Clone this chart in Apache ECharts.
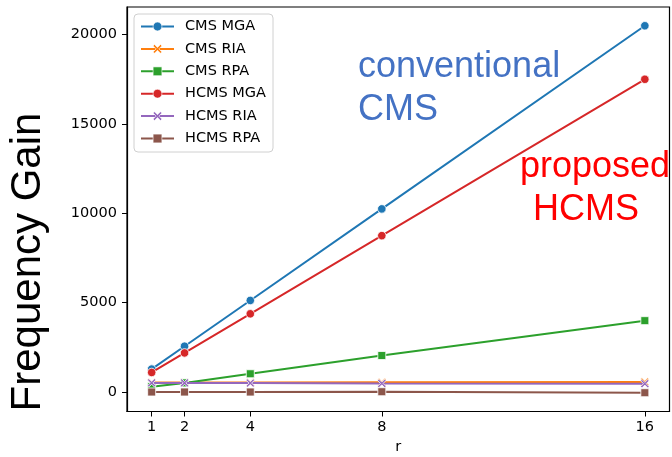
<!DOCTYPE html>
<html>
<head>
<meta charset="utf-8">
<script src="https://cdn.jsdelivr.net/npm/echarts@6/dist/echarts.min.js"></script>
<style>html,body{margin:0;padding:0;background:#fff}#c{width:672px;height:457px}</style>
</head>
<body>
<div id="c"></div>
<script>
const rValues = [1, 2, 4, 8, 16];
const yTicks = [0, 5000, 10000, 15000, 20000];
const cmsMGA = [1280, 2560, 5120, 10240, 20480];
const cmsRIA = [530, 530, 530, 540, 560];
const cmsRPA = [300, 510, 1020, 2040, 3990];
const hcmsMGA = [1093, 2186, 4372, 8744, 17488];
const hcmsRIA = [510, 510, 500, 480, 464];
const hcmsRPA = [0, 0, 0, 15, -40];
const seriesNames = ['CMS MGA', 'CMS RIA', 'CMS RPA', 'HCMS MGA', 'HCMS RIA', 'HCMS RPA'];
const seriesValues = [cmsMGA, cmsRIA, cmsRPA, hcmsMGA, hcmsRIA, hcmsRPA];
const colors = ['#1f77b4', '#ff7f0e', '#2ca02c', '#d62728', '#9467bd', '#8c564b'];
const xMark = 'path://M0,1.6 L1.6,0 L5,3.4 L8.4,0 L10,1.6 L6.6,5 L10,8.4 L8.4,10 L5,6.6 L1.6,10 L0,8.4 L3.4,5 Z';
const symbols = ['circle', xMark, 'rect', 'circle', xMark, 'rect'];
const symSizes = [8.5, 8.5, 8, 8.5, 8.5, 8];

const tickFont = {fontFamily: 'DejaVu Sans', fontSize: 14.5, color: '#000'};

const chart = echarts.init(document.getElementById('c'), null, {renderer: 'canvas'});
chart.setOption({
  animation: false,
  backgroundColor: '#fff',
  color: colors,
  grid: {left: 127, right: 2.5, top: 7, bottom: 45.5, show: true, borderColor: '#000', borderWidth: 1.2, backgroundColor: 'transparent', outerBoundsMode: 'none', containLabel: false},
  xAxis: {
    type: 'value', min: 0.25, max: 16.75,
    name: 'r', nameLocation: 'middle', nameGap: 27,
    nameTextStyle: {fontFamily: 'DejaVu Sans', fontSize: 14.5, color: '#000'},
    axisLine: {show: true, onZero: false, lineStyle: {color: '#000', width: 1.2}},
    axisTick: {show: true, inside: false, length: 5, customValues: rValues, lineStyle: {color: '#000', width: 1}},
    axisLabel: Object.assign({customValues: rValues, margin: 8, formatter: v => String(v)}, tickFont),
    splitLine: {show: false}
  },
  yAxis: {
    type: 'value', min: -1090, max: 21530,
    axisLine: {show: true, onZero: false, lineStyle: {color: '#000', width: 1.2}},
    axisTick: {show: true, inside: false, length: 5, customValues: yTicks, lineStyle: {color: '#000', width: 1}},
    axisLabel: Object.assign({customValues: yTicks, margin: 10, formatter: v => String(v)}, tickFont),
    splitLine: {show: false}
  },
  legend: {
    orient: 'vertical', left: 134, top: 14,
    padding: [5, 7, 6, 6],
    itemWidth: 33, itemHeight: 11, itemGap: 7.4,
    backgroundColor: 'rgba(255,255,255,0.8)',
    borderColor: '#d0d0d0', borderWidth: 1, borderRadius: 4,
    textStyle: {fontFamily: 'DejaVu Sans', fontSize: 14.5, color: '#000', lineHeight: 15, padding: [0, 0, 0, 6]},
    data: seriesNames.map(n => ({name: n, itemStyle: {borderWidth: 0.6}}))
  },
  graphic: [
    {type: 'text', x: 358, y: 67, style: {text: 'conventional', fontFamily: 'Liberation Sans', fontSize: 36, fill: '#4472C4', textAlign: 'left', textVerticalAlign: 'middle'}},
    {type: 'text', x: 358, y: 110, style: {text: 'CMS', fontFamily: 'Liberation Sans', fontSize: 36, fill: '#4472C4', textAlign: 'left', textVerticalAlign: 'middle'}},
    {type: 'text', x: 520, y: 167, style: {text: 'proposed', fontFamily: 'Liberation Sans', fontSize: 36, fill: '#ff0000', textAlign: 'left', textVerticalAlign: 'middle'}},
    {type: 'text', x: 533, y: 210, style: {text: 'HCMS', fontFamily: 'Liberation Sans', fontSize: 36, fill: '#ff0000', textAlign: 'left', textVerticalAlign: 'middle'}},
    {type: 'text', x: 28, y: 262, rotation: Math.PI / 2, style: {text: 'Frequency Gain', fontFamily: 'Liberation Sans', fontSize: 42, fill: '#000', textAlign: 'center', textVerticalAlign: 'middle'}}
  ],
  series: seriesNames.map((n, i) => ({
    name: n, type: 'line',
    data: rValues.map((r, j) => [r, seriesValues[i][j]]),
    symbol: symbols[i], symbolSize: symSizes[i], showSymbol: true,
    lineStyle: {width: 2, color: colors[i]},
    itemStyle: {color: colors[i], borderColor: '#fff', borderWidth: 0.8},
    emphasis: {disabled: true},
    z: 2 + i
  }))
});
</script>
</body>
</html>
